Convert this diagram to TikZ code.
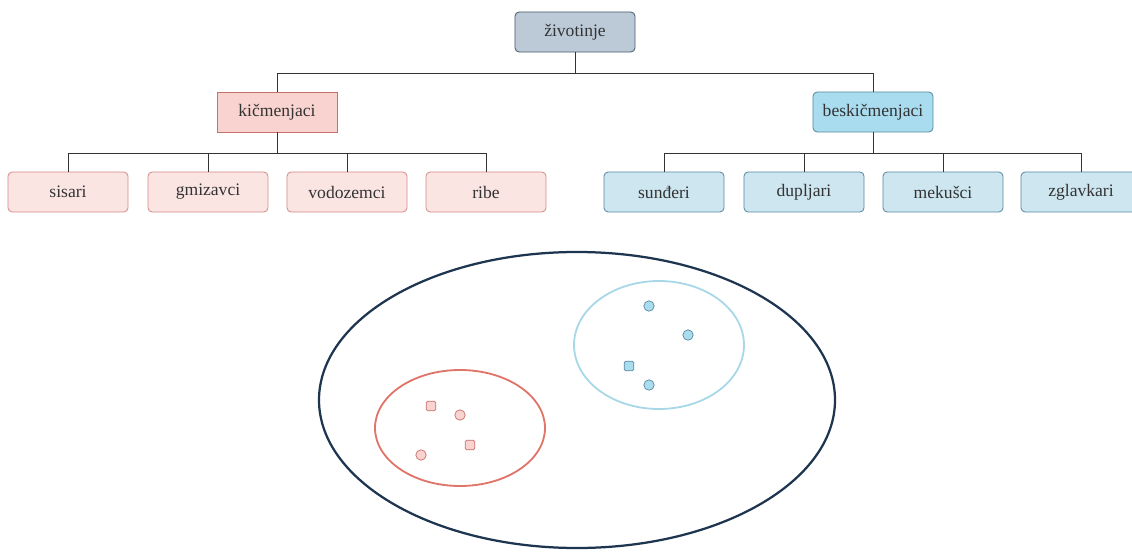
\documentclass[tikz,border=0pt]{standalone}
\usepackage{fontspec}
\setmainfont{Liberation Serif}
\usetikzlibrary{positioning,calc}
\definecolor{topfill}{HTML}{BCCAD8}
\definecolor{topline}{HTML}{4A5A6A}
\definecolor{kfill}{HTML}{F9D3CF}
\definecolor{kline}{HTML}{C8716A}
\definecolor{kleaf}{HTML}{FBE5E3}
\definecolor{bfill}{HTML}{A9DCEF}
\definecolor{bline}{HTML}{5A8AA0}
\definecolor{bleaf}{HTML}{CDE6F0}
\definecolor{setnavy}{HTML}{1E3550}
\definecolor{setred}{HTML}{E07468}
\definecolor{setblue}{HTML}{A8D8E8}
\definecolor{linkgray}{HTML}{333333}
\tikzset{
  box/.style  = {rectangle, draw, rounded corners=3pt,
                 minimum width = 3cm, minimum height = 1cm,
                 font = \fontsize{12.5}{14}\selectfont, text = linkgray,
                 line width = 0.6pt},
  root/.style = {box, fill = topfill, draw = topline},
  kbox/.style = {box, rounded corners=0pt, fill = kfill, draw = kline},
  kleafbox/.style = {box, fill = kleaf, draw = kline!80},
  bbox/.style = {box, fill = bfill, draw = bline},
  bleafbox/.style = {box, fill = bleaf, draw = bline},
  link/.style = {draw = linkgray, line width = 0.7pt},
  kdot/.style = {circle, draw = kline, fill = kfill, line width = 0.5pt,
                 minimum size = 0.26cm, inner sep = 0pt},
  ksq/.style  = {kdot, rectangle, rounded corners=1pt, minimum size = 0.24cm},
  bdot/.style = {circle, draw = bline, fill = bfill, line width = 0.5pt,
                 minimum size = 0.26cm, inner sep = 0pt},
  bsq/.style  = {bdot, rectangle, rounded corners=1pt, minimum size = 0.24cm}
}
\begin{document}
\begin{tikzpicture}[x=0.025cm, y=-0.025cm]
  \useasboundingbox (0,0) rectangle (1132,558);
  % tree
  \node[root] (zivotinje) at (575,32) {životinje};
  \node[kbox] (kicmenjaci) at (277,112) {kičmenjaci};
  \node[bbox] (beskicmenjaci) at (873,112) {beskičmenjaci};
  \node[kleafbox] (sisari) at (68,192) {sisari};
  \node[kleafbox] (gmizavci) at (208,192) {gmizavci};
  \node[kleafbox] (vodozemci) at (347,192) {vodozemci};
  \node[kleafbox] (ribe) at (486,192) {ribe};
  \node[bleafbox] (sunderi) at (664,192) {sunđeri};
  \node[bleafbox] (dupljari) at (804,192) {dupljari};
  \node[bleafbox] (mekusci) at (943,192) {mekušci};
  \node[bleafbox] (zglavkari) at (1081,192) {zglavkari};
  \coordinate (zsplit) at ($(zivotinje.south)+(0,21)$);
  \coordinate (ksplit) at ($(kicmenjaci.south)+(0,21)$);
  \coordinate (bsplit) at ($(beskicmenjaci.south)+(0,21)$);
  \draw[link] (zivotinje.south) -- (zsplit);
  \draw[link] (zsplit) -| (kicmenjaci.north);
  \draw[link] (zsplit) -| (beskicmenjaci.north);
  \draw[link] (kicmenjaci.south) -- (ksplit);
  \foreach \leaf in {sisari,gmizavci,vodozemci,ribe}
    \draw[link] (ksplit) -| (\leaf.north);
  \draw[link] (beskicmenjaci.south) -- (bsplit);
  \foreach \leaf in {sunderi,dupljari,mekusci,zglavkari}
    \draw[link] (bsplit) -| (\leaf.north);
  % sets
  \draw[setnavy, line width=1.6pt] (577,400) ellipse [x radius=258, y radius=148];
  \draw[setred, line width=1.3pt] (460,428) ellipse [x radius=85, y radius=58];
  \draw[setblue, line width=1.3pt] (659,345) ellipse [x radius=85, y radius=64];
  \node[ksq]  (k1) at (431,406) {};
  \node[kdot] (k2) at (460,415) {};
  \node[ksq]  (k3) at (470,445) {};
  \node[kdot] (k4) at (421,455) {};
  \node[bdot] (b1) at (649,306) {};
  \node[bdot] (b2) at (688,335) {};
  \node[bsq]  (b3) at (629,366) {};
  \node[bdot] (b4) at (649,385) {};
\end{tikzpicture}
\end{document}
